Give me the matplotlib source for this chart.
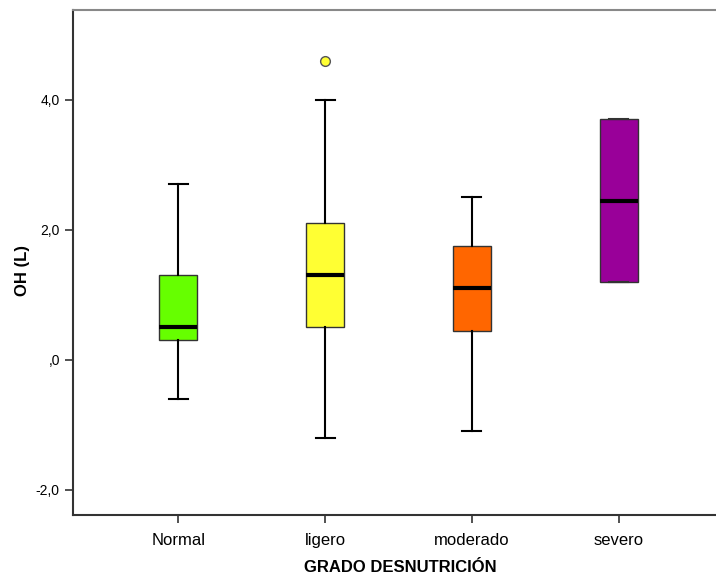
import matplotlib
matplotlib.use('Agg')
import matplotlib.pyplot as plt

plt.rcParams['font.family'] = ['Liberation Sans', 'DejaVu Sans']

# grado de desnutricion: resumen de cajas
grupos = ["Normal", "ligero", "moderado", "severo"]
q1 = [0.30, 0.50, 0.45, 1.20]
mediana = [0.50, 1.30, 1.10, 2.45]
q3 = [1.30, 2.10, 1.75, 3.70]
bigote_inf = [-0.60, -1.20, -1.10, 1.20]
bigote_sup = [2.70, 4.00, 2.50, 3.70]
atipicos = [[], [4.60], [], []]
colores = ["#66FF00", "#FFFF33", "#FF6600", "#990099"]

stats = []
for i, g in enumerate(grupos):
    stats.append({
        "label": g, "q1": q1[i], "med": mediana[i], "q3": q3[i],
        "whislo": bigote_inf[i], "whishi": bigote_sup[i], "fliers": atipicos[i],
    })

fig = plt.figure(figsize=(7.16, 5.79), dpi=100)
# axes: left 73px, right ~724px (cut off), top 10px, bottom 515px
ax = fig.add_axes([73 / 716, 1 - 515 / 579, 651 / 716, 505 / 579])

bp = ax.bxp(stats, positions=range(len(grupos)), widths=0.256,
            patch_artist=True, showfliers=True,
            boxprops=dict(edgecolor="#333333", linewidth=1.0),
            medianprops=dict(color="black", linewidth=3),
            whiskerprops=dict(color="black", linewidth=1.5),
            capprops=dict(color="black", linewidth=1.5),
            capwidths=0.13,
            flierprops=dict(marker="o", markersize=7, markeredgecolor="#555555",
                            markeredgewidth=1.0, linestyle="none"))
for patch, c in zip(bp["boxes"], colores):
    patch.set_facecolor(c)
for fl, c in zip(bp["fliers"], colores):
    fl.set_markerfacecolor(c)
# severo: whiskers coincide with box, caps drawn darker
bp["caps"][6].set_color("#333333")
bp["caps"][7].set_color("#333333")

ax.set_xlim(-0.716, 3.716)
ax.set_ylim(-2.385, 5.38)
ax.set_yticks([-2, 0, 2, 4])
ax.set_yticklabels(["-2,0", ",0", "2,0", "4,0"], fontsize=10)
ax.set_xticks(range(len(grupos)))
ax.set_xticklabels(grupos, fontsize=12)
ax.tick_params(axis="both", length=6, width=1.2, color="#333333")
ax.tick_params(axis="x", pad=7)

for s in ["left", "bottom"]:
    ax.spines[s].set_color("#333333")
    ax.spines[s].set_linewidth(1.5)
ax.spines["top"].set_color("#888888")
ax.spines["top"].set_linewidth(1.5)
ax.spines["right"].set_visible(False)

ax.set_xlabel("GRADO DESNUTRICIÓN", fontsize=12, fontweight="bold")
ax.xaxis.set_label_coords((400 - 73) / 651, -(567 - 515) / 505)
ax.set_ylabel("OH (L)", fontsize=12, fontweight="bold")
ax.yaxis.set_label_coords(-(73 - 22) / 651, (515 - 270) / 505)
ax.xaxis.label.set_va("center")
ax.yaxis.label.set_va("center")

fig.savefig("out.png", dpi=100)
